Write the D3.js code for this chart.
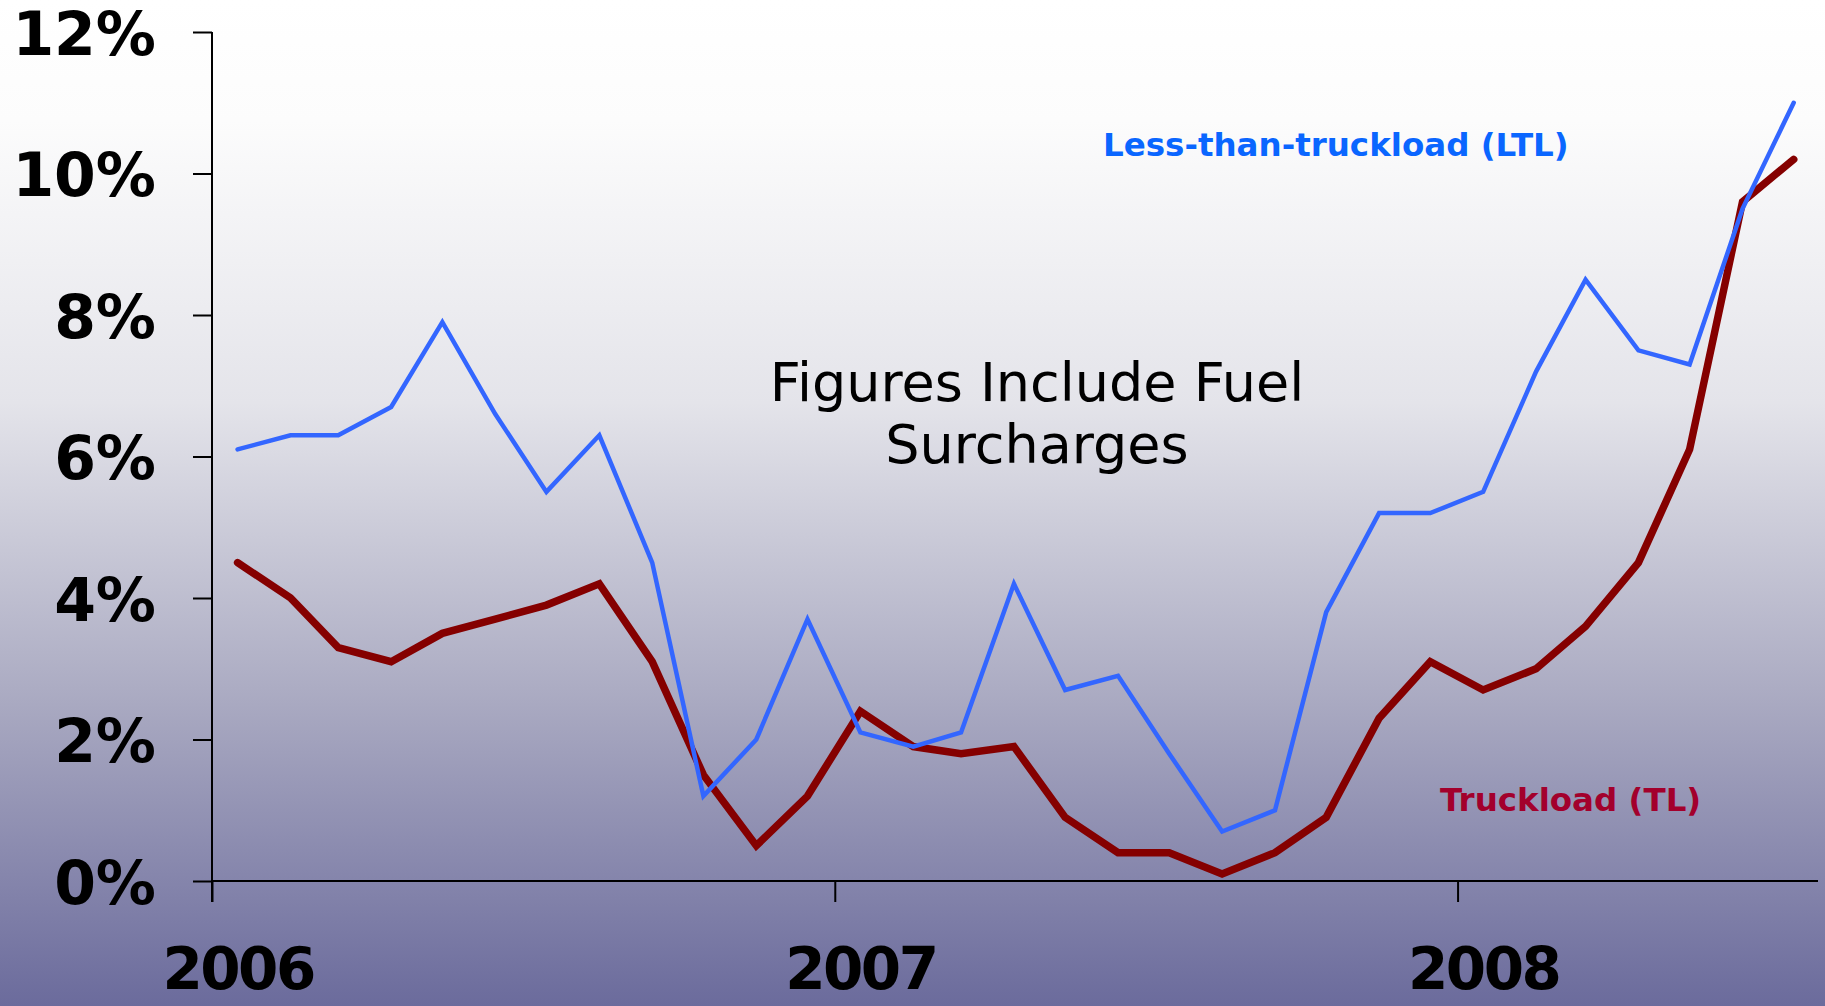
<!DOCTYPE html>
<html>
<head>
<meta charset="utf-8">
<script src="https://cdn.jsdelivr.net/npm/d3@7"></script>
<style>
  html, body { margin: 0; padding: 0; overflow: hidden; }
  svg { display: block; }
</style>
</head>
<body>
<div class="canvas"></div>
<script>
// monthly rate change, Jan 2006 - Jul 2008
const months = [
  '2006-01','2006-02','2006-03','2006-04','2006-05','2006-06','2006-07','2006-08','2006-09','2006-10','2006-11','2006-12',
  '2007-01','2007-02','2007-03','2007-04','2007-05','2007-06','2007-07','2007-08','2007-09','2007-10','2007-11','2007-12',
  '2008-01','2008-02','2008-03','2008-04','2008-05','2008-06','2008-07'
];
const ltl = [6.1, 6.3, 6.3, 6.7, 7.9, 6.6, 5.5, 6.3, 4.5, 1.2, 2.0, 3.7,
             2.1, 1.9, 2.1, 4.2, 2.7, 2.9, 1.8, 0.7, 1.0, 3.8, 5.2, 5.2,
             5.5, 7.2, 8.5, 7.5, 7.3, 9.5, 11.0];
const tl  = [4.5, 4.0, 3.3, 3.1, 3.5, 3.7, 3.9, 4.2, 3.1, 1.5, 0.5, 1.2,
             2.4, 1.9, 1.8, 1.9, 0.9, 0.4, 0.4, 0.1, 0.4, 0.9, 2.3, 3.1,
             2.7, 3.0, 3.6, 4.5, 6.1, 9.6, 10.2];
const yTicks = [0, 2, 4, 6, 8, 10, 12];
const years = ['2006', '2007', '2008'];

const dims = { width: 1825, height: 1006 };

const svg = d3.select('.canvas')
    .append('svg')
    .attr('width', dims.width)
    .attr('height', dims.height);

// background gradient, white at top to slate blue at bottom
const grad = svg.append('defs').append('linearGradient')
    .attr('id', 'bg')
    .attr('x1', 0).attr('y1', 0).attr('x2', 0).attr('y2', 1);
[[0, '#ffffff'], [0.12, '#fcfcfc'], [0.4, '#e4e4ea'], [0.7, '#a9a9c1'], [1, '#6b6b9c']]
    .forEach(s => grad.append('stop').attr('offset', s[0]).attr('stop-color', s[1]));

svg.append('rect')
    .attr('width', dims.width)
    .attr('height', dims.height)
    .attr('fill', 'url(#bg)');

const parse = d3.timeParse('%Y-%m');
const mid = m => d3.timeDay.offset(parse(m), 15); // points sit mid-month

const x = d3.scaleTime()
    .domain([new Date(2006, 0, 1), new Date(2008, 7, 1)])
    .range([212, 1821]);

const y = d3.scaleLinear()
    .domain([0, 12])
    .range([881, 32]);

// axes
const yAxis = svg.append('g')
    .attr('transform', `translate(${x.range()[0]},0)`)
    .call(d3.axisLeft(y).tickValues(yTicks).tickSize(19).tickPadding(37).tickFormat(d => d + '%'));
yAxis.select('.domain').remove();
yAxis.append('line')
    .attr('y1', y(12)).attr('y2', y(0) + 21)
    .attr('stroke', '#000').attr('stroke-width', 2);
yAxis.selectAll('line').attr('stroke-width', 2);
yAxis.selectAll('text')
    .attr('dy', '0.37em')
    .attr('fill', '#000')
    .style('font-family', '"DejaVu Sans", Verdana, sans-serif')
    .style('font-weight', 'bold')
    .style('font-size', '60px');

const xAxis = svg.append('g')
    .attr('transform', `translate(0,${y(0)})`)
    .call(d3.axisBottom(x).tickValues(years.map(yr => new Date(+yr, 0, 1))).tickSize(21).tickFormat(''));
xAxis.select('.domain')
    .attr('d', `M${x.range()[0]},0H1818`)
    .attr('stroke-width', 2);
xAxis.selectAll('line').attr('stroke-width', 2);

// year labels sit under the January points, kept just inside the bottom edge
const xLabels = svg.append('g')
    .attr('transform', `translate(0,${y(0)})`)
    .call(d3.axisBottom(x).tickValues(years.map(yr => mid(yr + '-01'))).tickSize(0).tickPadding(67).tickFormat(d3.timeFormat('%Y')));
xLabels.select('.domain').remove();
xLabels.selectAll('text')
    .attr('fill', '#000')
    .style('font-family', '"DejaVu Sans", Verdana, sans-serif')
    .style('font-weight', 'bold')
    .style('font-size', '58px')
    .style('letter-spacing', '-2.5px');

// lines
const line = d3.line()
    .x((d, i) => x(mid(months[i])))
    .y(d => y(d));

svg.append('path')
    .datum(tl)
    .attr('d', line)
    .attr('fill', 'none')
    .attr('stroke', '#850000')
    .attr('stroke-width', 7.5)
    .attr('stroke-linecap', 'round');

svg.append('path')
    .datum(ltl)
    .attr('d', line)
    .attr('fill', 'none')
    .attr('stroke', '#3366ff')
    .attr('stroke-width', 4.5)
    .attr('stroke-linecap', 'round');

// annotations
svg.append('text')
    .attr('x', 1103).attr('y', 156)
    .attr('fill', '#0a66ff')
    .style('font-family', '"DejaVu Sans", Verdana, sans-serif')
    .style('font-weight', 'bold')
    .style('font-size', '32.5px')
    .text('Less-than-truckload (LTL)');

svg.append('text')
    .attr('x', 1440).attr('y', 811)
    .attr('fill', '#a3002c')
    .style('font-family', '"DejaVu Sans", Verdana, sans-serif')
    .style('font-weight', 'bold')
    .style('font-size', '32.5px')
    .text('Truckload (TL)');

const note = svg.append('text')
    .attr('x', 1037).attr('y', 401)
    .attr('text-anchor', 'middle')
    .attr('fill', '#000')
    .style('font-family', '"DejaVu Sans", Tahoma, sans-serif')
    .style('font-size', '54px');
note.append('tspan').attr('x', 1037).text('Figures Include Fuel');
note.append('tspan').attr('x', 1037).attr('dy', 62).text('Surcharges');
</script>
</body>
</html>
